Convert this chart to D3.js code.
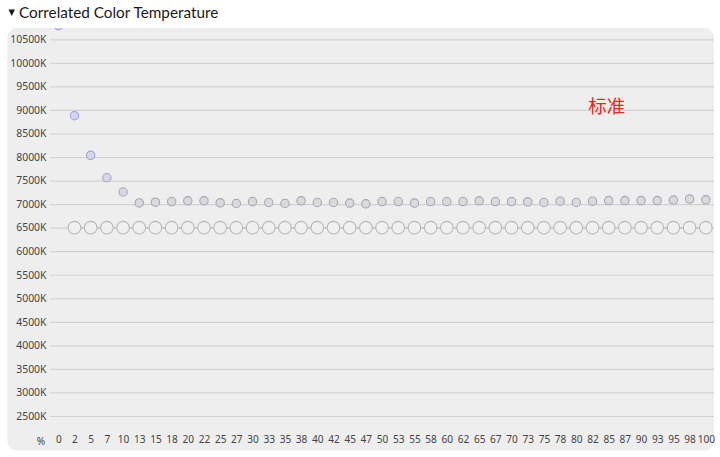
<!DOCTYPE html>
<html><head><meta charset="utf-8">
<script src="https://cdn.jsdelivr.net/npm/d3@7"></script>
<style>
html,body{margin:0;padding:0;background:#fff;}
svg{display:block;font-family:"Noto Sans","Open Sans",sans-serif;}
</style></head>
<body><svg id="chart" width="720" height="457"></svg>
<script>
const title = "Correlated Color Temperature";
const xLabels = ["0","2","5","7","10","13","15","18","20","22","25","27","30","33","35","38","40","42","45","47","50","53","55","58","60","62","65","67","70","73","75","78","80","82","85","87","90","93","95","98","100"];
const yTicks = [2500,3000,3500,4000,4500,5000,5500,6000,6500,7000,7500,8000,8500,9000,9500,10000,10500];
const measured = [10790,8877,8036,7560,7257,7025,7042,7055,7070,7070,7028,7013,7055,7034,7013,7070,7034,7034,7021,7006,7055,7055,7021,7055,7055,7055,7070,7055,7055,7049,7034,7063,7034,7063,7076,7076,7076,7076,7085,7106,7091];
const standard = [null,6500,6500,6500,6500,6500,6500,6500,6500,6500,6500,6500,6500,6500,6500,6500,6500,6500,6500,6500,6500,6500,6500,6500,6500,6500,6500,6500,6500,6500,6500,6500,6500,6500,6500,6500,6500,6500,6500,6500,6500];
const standardLabel = "标准";
const unitLabel = "%";

const svg = d3.select("#chart");
const panel = {x:7.5, y:28, w:706.5, h:422.5, r:9};
const font = "'Noto Sans','Open Sans',sans-serif";

// title
const t = svg.append("g");
t.append("path").attr("d","M8.5,9.5 L15,9.5 L11.75,16 Z").attr("fill","#1a1a1a");
t.append("text").attr("x",19).attr("y",17.5).attr("font-size",15.3).attr("fill","#1a1a1a")
  .attr("font-family","Lato,'Noto Sans',sans-serif").text(title);

// panel
svg.append("rect").attr("x",panel.x).attr("y",panel.y).attr("width",panel.w).attr("height",panel.h)
  .attr("rx",panel.r).attr("fill","#eeeeee");
svg.append("clipPath").attr("id","clip").append("rect")
  .attr("x",panel.x).attr("y",panel.y).attr("width",panel.w).attr("height",panel.h).attr("rx",panel.r);

const x = d3.scalePoint().domain(d3.range(xLabels.length)).range([58.3,705.8]);
const y = d3.scaleLinear().domain([2500,10500]).range([416,39.3]);

const g = svg.append("g").attr("clip-path","url(#clip)");

// y axis labels
const yAxis = d3.axisLeft(y).tickValues(yTicks).tickSize(0).tickPadding(0).tickFormat(d=>d+"K");
const ya = svg.append("g").attr("transform","translate(46.5,0)").call(yAxis);
ya.select(".domain").remove();
ya.selectAll("text").attr("font-size",10.4).attr("fill","#444").attr("font-family",font);

// grid
g.append("g").selectAll("line").data(yTicks).join("line")
  .attr("x1",50).attr("x2",panel.x+panel.w).attr("y1",d=>y(d)+0.5).attr("y2",d=>y(d)+0.5)
  .attr("stroke","#d2d2d2").attr("stroke-width",1.2);

// x axis labels
const xAxis = d3.axisBottom(x).tickSize(0).tickPadding(0).tickFormat(i=>xLabels[i]);
const xa = svg.append("g").attr("transform","translate(0,435.5)").call(xAxis);
xa.select(".domain").remove();
xa.selectAll("text").attr("font-size",10.1).attr("fill","#444").attr("font-family",font);
svg.append("text").attr("x",41).attr("y",444.5).attr("text-anchor","middle").attr("font-size",10.1)
  .attr("fill","#444").attr("font-family",font).text(unitLabel);

// standard series
const stdPts = standard.map((v,i)=>({i,v})).filter(d=>d.v!=null);
g.append("path").datum(stdPts)
  .attr("d",d3.line().x(d=>x(d.i)).y(d=>y(d.v)))
  .attr("fill","none").attr("stroke","#c4c4c4").attr("stroke-width",1.2);
g.append("g").selectAll("circle").data(stdPts).join("circle")
  .attr("cx",d=>x(d.i)).attr("cy",d=>y(d.v)).attr("r",6.3)
  .attr("fill","#f0f0f0").attr("stroke","#b9b9b9").attr("stroke-width",1.1);

// measured series
const fillC = d3.scaleLinear().domain([7100,8800]).range(["#d9d9e0","#d3d3f3"]).clamp(true);
const strokeC = d3.scaleLinear().domain([7100,8800]).range(["#a7a7b0","#a4a4e2"]).clamp(true);
g.append("g").selectAll("circle").data(measured.map((v,i)=>({i,v}))).join("circle")
  .attr("cx",d=>x(d.i)).attr("cy",d=>y(d.v)).attr("r",4.2)
  .attr("fill",d=>fillC(d.v)).attr("stroke",d=>strokeC(d.v)).attr("stroke-width",1.1);

// annotation
svg.append("text").attr("x",x(34)-2).attr("y",y(9070)).attr("dy","0.35em").attr("text-anchor","middle")
  .attr("font-size",18.5).attr("fill","#e8281e")
  .attr("font-family","'Noto Sans CJK SC',sans-serif").text(standardLabel);
</script></body></html>
